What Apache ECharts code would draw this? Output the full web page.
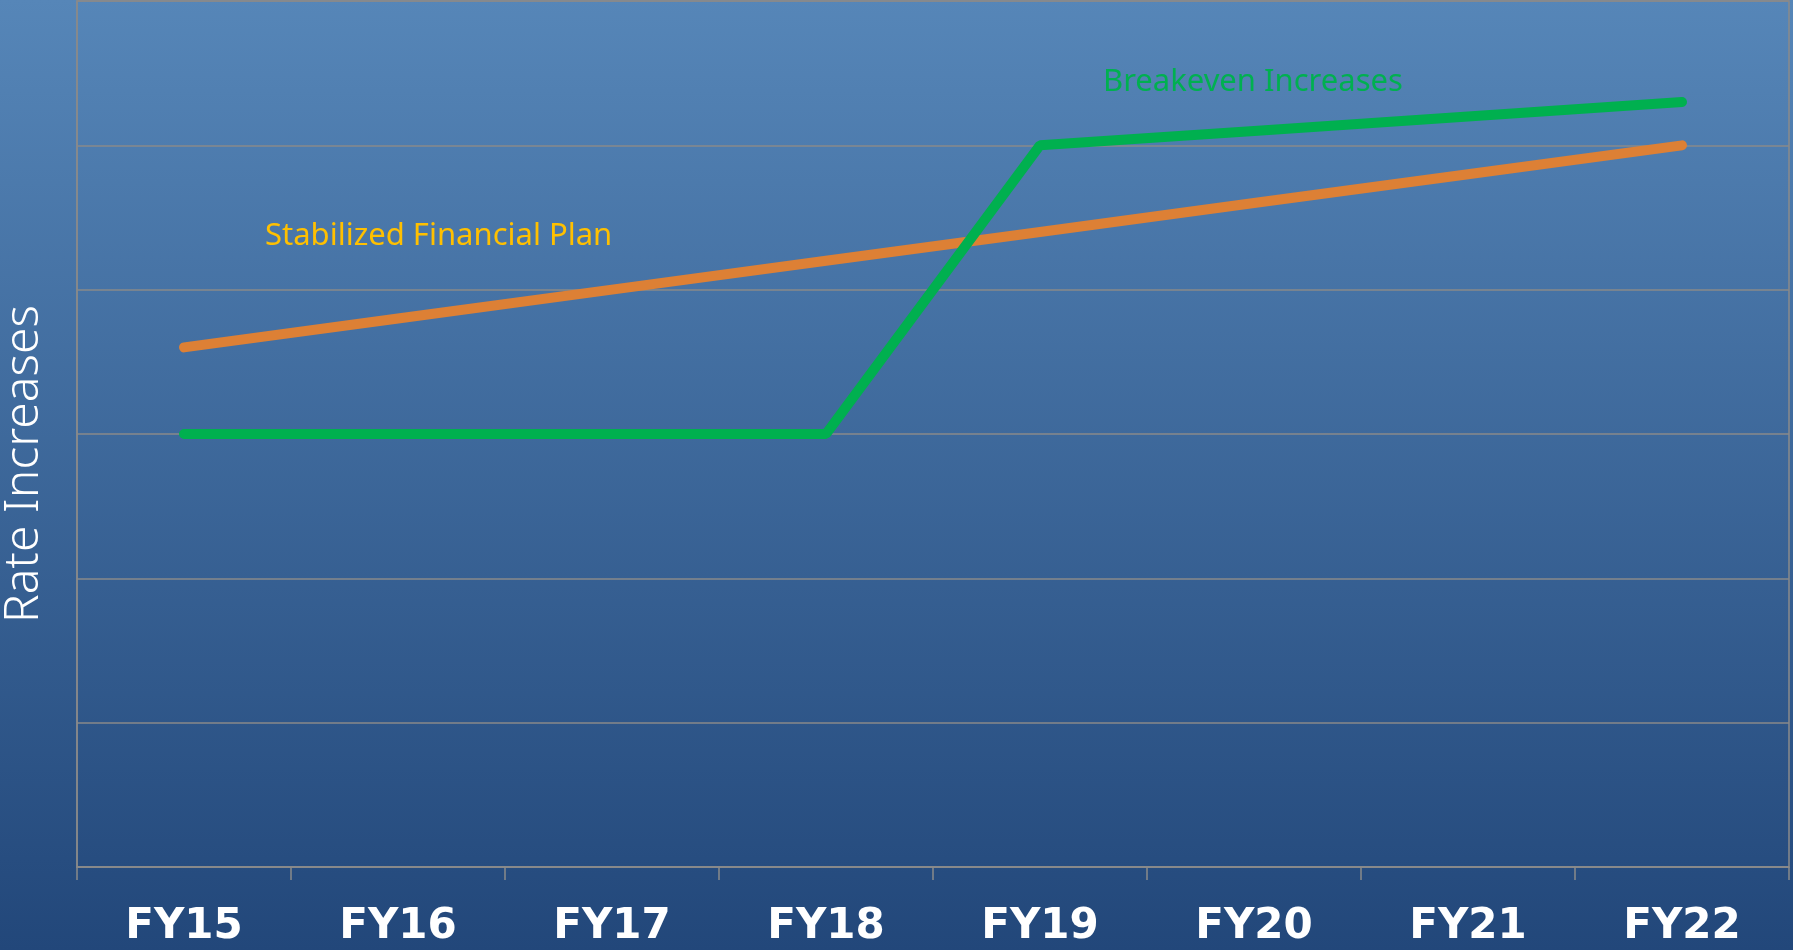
<!DOCTYPE html>
<html>
<head>
<meta charset="utf-8">
<script src="https://cdn.jsdelivr.net/npm/echarts@6/dist/echarts.min.js"></script>
<style>
    html, body { margin: 0; padding: 0; }
    #chart { width: 1793px; height: 950px; }
</style>
</head>
<body>
<div id="chart"></div>
<script>
    // fiscal years on the x axis
    const years = ['FY15', 'FY16', 'FY17', 'FY18', 'FY19', 'FY20', 'FY21', 'FY22'];
    // relative rate level (unitless)
    const stabilizedPlan = [3.6, 3.8, 4.0, 4.2, 4.4, 4.6, 4.8, 5.0];
    const breakeven = [3.0, 3.0, 3.0, 3.0, 5.0, 5.1, 5.2, 5.3];

    let myChart = echarts.init(document.getElementById('chart'))
    myChart.setOption({
        backgroundColor: {
            type: 'linear', x: 0, y: 0, x2: 0, y2: 1,
            colorStops: [
                {offset: 0, color: '#5686b8'},
                {offset: 1, color: '#22477a'}
            ]
        },
        animation: false,
        grid: {
            left: 77,
            right: 4,
            top: 1,
            bottom: 83,
            show: true,
            borderColor: '#8a8a8a',
            borderWidth: 1.5
        },
        graphic: [
            {
                type: 'text',
                x: 24,
                y: 464,
                rotation: Math.PI / 2,
                style: {
                    text: 'Rate Increases',
                    fill: '#ffffff',
                    font: '300 48px "Noto Sans"',
                    align: 'center',
                    verticalAlign: 'middle'
                }
            },
            {
                type: 'text',
                x: 265,
                y: 236,
                style: {
                    text: 'Stabilized Financial Plan',
                    fill: '#ffc000',
                    font: '31px "Noto Sans"',
                    verticalAlign: 'middle'
                }
            },
            {
                type: 'text',
                x: 1103,
                y: 82,
                style: {
                    text: 'Breakeven Increases',
                    fill: '#00b050',
                    font: '31px "Noto Sans"',
                    verticalAlign: 'middle'
                }
            }
        ],
        xAxis: {
            type: 'category',
            boundaryGap: true,
            data: years,
            axisLine: { lineStyle: { color: '#8a8a8a', width: 1.5 } },
            axisTick: { show: true, length: 13, lineStyle: { color: '#8a8a8a', width: 1.5 } },
            axisLabel: {
                color: '#ffffff',
                fontFamily: 'DejaVu Sans',
                fontWeight: 'bold',
                fontSize: 42,
                lineHeight: 42,
                margin: 39
            }
        },
        yAxis: {
            type: 'value',
            min: 0,
            max: 6,
            interval: 1,
            axisLine: { show: true, lineStyle: { color: '#8a8a8a', width: 1.5 } },
            axisTick: { show: false },
            axisLabel: { show: false },
            splitLine: { lineStyle: { color: '#8a8a8a', width: 1.5 } }
        },
        series: [
            {
                name: 'Stabilized Financial Plan',
                type: 'line',
                data: stabilizedPlan,
                symbol: 'none',
                lineStyle: { color: '#dd8035', width: 10, cap: 'round' }
            },
            {
                name: 'Breakeven Increases',
                type: 'line',
                data: breakeven,
                symbol: 'none',
                lineStyle: { color: '#00b04f', width: 10, cap: 'round' }
            }
        ]
    })
</script>
</body>
</html>
